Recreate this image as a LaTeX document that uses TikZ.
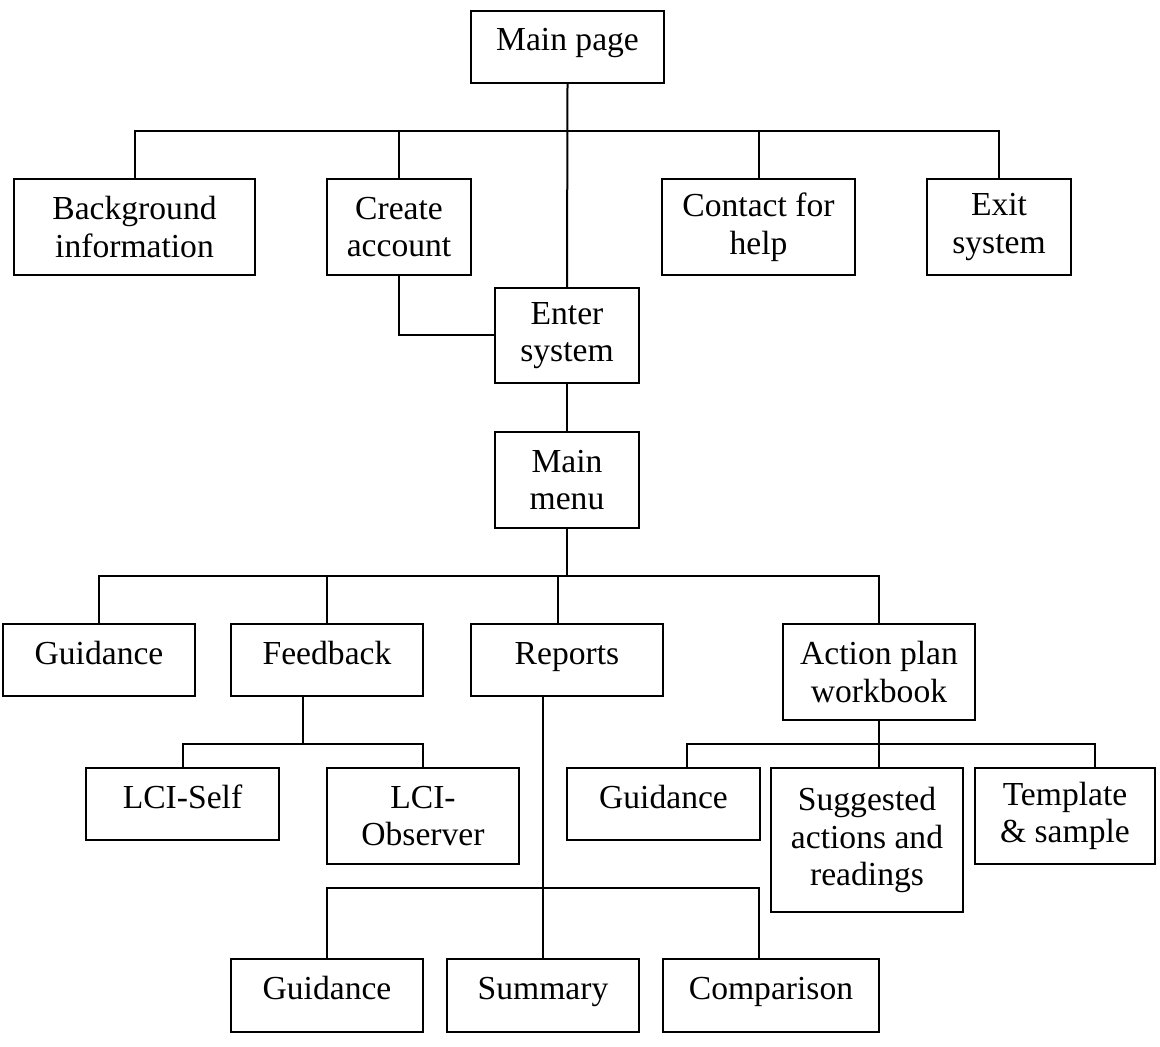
\documentclass[tikz,border=0pt]{standalone}
\usepackage{fontspec}
\setmainfont{Liberation Serif}
\usetikzlibrary{calc}

\begin{document}
\begin{tikzpicture}[
  x=0.5pt,y=-0.5pt,line width=1pt,
  box/.style 2 args={draw,minimum width=#1,minimum height=#2,inner sep=0pt,align=center,font=\fontsize{16.8}{18.85}\selectfont},
  oneline/.style={text height=12pt,text depth=8pt}]
  \useasboundingbox (0,0) rectangle (1160,1047);
  % top level
  \node[box={96.5pt}{36pt},oneline] (mainpage) at (567.5,47) {Main page};
  \node[box={120.5pt}{48pt}] (bg)      at (134.5,227) {Background\\information};
  \node[box={72pt}{48pt}]    (create)  at (399,227)   {Create\\account};
  \node[box={96.5pt}{48pt}]  (contact) at (758.5,227) {Contact for\\help};
  \node[box={72pt}{48pt}]    (exit)    at (999,227)   {Exit\\system};
  \node[box={72pt}{47.5pt}]  (enter)   at (567,335.5) {Enter\\system};
  \node[box={72pt}{48pt}]    (menu)    at (567,480)   {Main\\menu};
  % main menu
  \node[box={96pt}{36pt},oneline] (guid)     at (99,660)  {Guidance};
  \node[box={96pt}{36pt},oneline] (feedback) at (327,660) {Feedback};
  \node[box={96pt}{36pt},oneline] (reports)  at (567,660) {Reports};
  \node[box={96pt}{48pt}]         (action)   at (879,672) {Action plan\\workbook};
  % feedback
  \node[box={96.5pt}{36pt},oneline] (lciself) at (182.5,804) {LCI-Self};
  \node[box={96pt}{48pt}]           (lciobs)  at (423,816)   {LCI-\\Observer};
  % action plan
  \node[box={96.5pt}{36pt},oneline] (apguid)  at (663.5,804) {Guidance};
  \node[box={96pt}{72pt}]           (suggest) at (867,840)   {Suggested\\actions and\\readings};
  \node[box={90pt}{48pt}]           (templ)   at (1065,816)  {Template\\\& sample};
  % reports
  \node[box={96pt}{36.5pt},oneline] (rguid)   at (327,995.5) {Guidance};
  \node[box={96pt}{36.5pt},oneline] (summary) at (543,995.5) {Summary};
  \node[box={108pt}{36.5pt},oneline] (compar) at (771,995.5) {Comparison};

  \coordinate (topbar) at (0,131);
  \coordinate (midbar) at (0,576);
  \coordinate (fbbar)  at (0,744);
  \coordinate (apbar)  at (0,744);
  \coordinate (rbar)   at (0,888);
  \coordinate (repin)  at ($(reports.north)+(-9,0)$);
  \coordinate (fbout)  at ($(feedback.south)+(-24,0)$);
  \coordinate (repout) at ($(reports.south)+(-24,0)$);
  \coordinate (cmpin)  at ($(compar.north)+(-12,0)$);
  \coordinate (apgin)  at ($(apguid.north)+(23.5,0)$);
  \coordinate (sugin)  at ($(suggest.north)+(12,0)$);
  \coordinate (tplin)  at ($(templ.north)+(30,0)$);

  \draw (mainpage.south) -- (enter.north);
  \draw (bg.north) |- (exit.north |- topbar) -- (exit.north);
  \draw (create.north) -- (create.north |- topbar);
  \draw (contact.north) -- (contact.north |- topbar);
  \draw (create.south) |- (enter.west);
  \draw (enter.south) -- (menu.north);

  \draw (guid.north) |- (action.north |- midbar) -- (action.north);
  \draw (menu.south) -- (menu.south |- midbar);
  \draw (feedback.north) -- (feedback.north |- midbar);
  \draw (repin) -- (repin |- midbar);

  \draw (fbout) -- (fbout |- fbbar);
  \draw (lciself.north) |- (lciobs.north |- fbbar) -- (lciobs.north);

  \draw (repout) -- (summary.north);
  \draw (rguid.north) |- (cmpin |- rbar) -- (cmpin);

  \draw (action.south) -- (sugin);
  \draw (apgin) |- (tplin |- apbar) -- (tplin);
\end{tikzpicture}
\end{document}
